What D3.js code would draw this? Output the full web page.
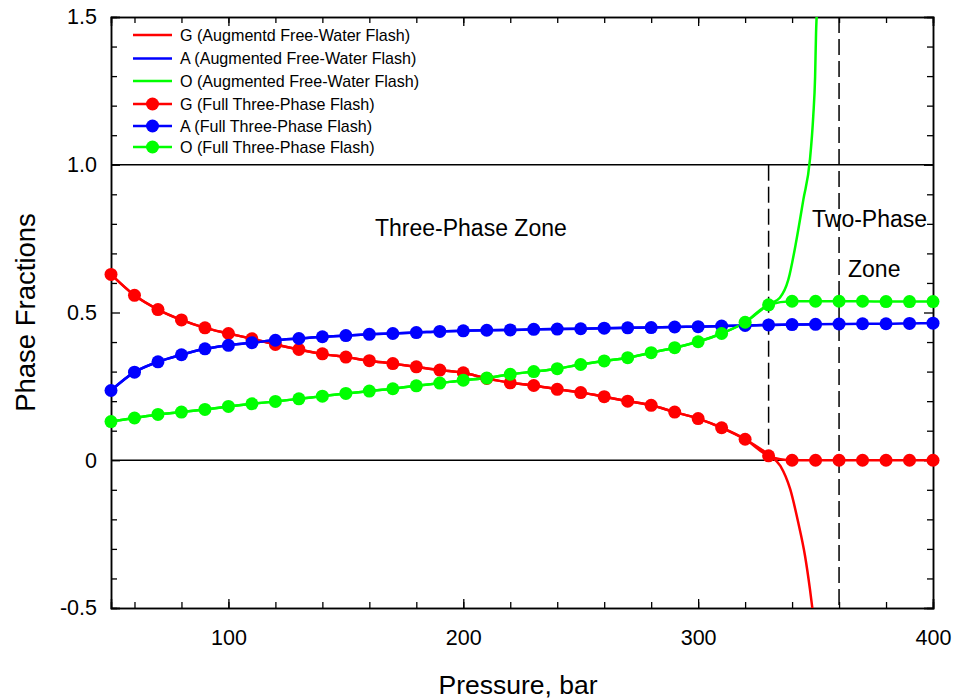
<!DOCTYPE html>
<html>
<head>
<meta charset="utf-8">
<script src="https://cdn.jsdelivr.net/npm/d3@7"></script>
<style>
  html, body { margin: 0; padding: 0; background: #fff; }
  svg { display: block; font-family: Arial, "Liberation Sans", sans-serif; }
</style>
</head>
<body>
<svg id="chart" width="954" height="700"></svg>
<script>
// ---------------- DATA ----------------
const pressure = [50,60,70,80,90,100,110,120,130,140,150,160,170,180,190,200,210,220,230,240,250,260,270,280,290,300,310,320,330,340,350,360,370,380,390,400];
const gFull = [0.629,0.558,0.510,0.475,0.448,0.429,0.411,0.392,0.375,0.360,0.349,0.337,0.327,0.316,0.305,0.296,0.277,0.262,0.253,0.240,0.229,0.215,0.200,0.186,0.163,0.141,0.110,0.071,0.015,0,0,0,0,0,0,0];
const aFull = [0.236,0.298,0.333,0.357,0.377,0.389,0.398,0.406,0.412,0.418,0.422,0.426,0.429,0.432,0.436,0.438,0.440,0.441,0.443,0.444,0.445,0.447,0.448,0.449,0.451,0.452,0.454,0.456,0.458,0.459,0.460,0.461,0.462,0.462,0.463,0.464];
const oFull = [0.131,0.143,0.155,0.163,0.172,0.182,0.191,0.199,0.208,0.217,0.226,0.234,0.242,0.252,0.261,0.271,0.278,0.291,0.300,0.310,0.324,0.336,0.347,0.364,0.381,0.401,0.429,0.467,0.526,0.538,0.538,0.538,0.538,0.537,0.537,0.537];

// Augmented free-water flash (continuous curves)
const augGPressure = [50,60,70,80,90,100,110,120,130,140,150,160,170,180,190,200,210,220,230,240,250,260,270,280,290,300,310,320,330,335,339.2,342.6,345.5,347.6,348.7];
const augG = [0.629,0.558,0.510,0.475,0.448,0.429,0.411,0.392,0.375,0.360,0.349,0.337,0.327,0.316,0.305,0.296,0.277,0.262,0.253,0.240,0.229,0.215,0.200,0.186,0.163,0.141,0.110,0.071,0.018,-0.019,-0.098,-0.210,-0.323,-0.436,-0.505];
const augAPressure = [50,60,70,80,90,100,110,120,130,140,150,160,170,180,190,200,210,220,230,240,250,260,270,280,290,300,310,320,330,340,350];
const augA = [0.236,0.298,0.333,0.357,0.377,0.389,0.398,0.406,0.412,0.418,0.422,0.426,0.429,0.432,0.436,0.438,0.440,0.441,0.443,0.444,0.445,0.447,0.448,0.449,0.451,0.452,0.454,0.456,0.458,0.459,0.460];
const augOPressure = [50,60,70,80,90,100,110,120,130,140,150,160,170,180,190,200,210,220,230,240,250,260,270,280,290,300,310,320,330,334.8,338.4,341.9,344.8,347.6,349.0,349.8,350.2,350.5];
const augO = [0.131,0.143,0.155,0.163,0.172,0.182,0.191,0.199,0.208,0.217,0.226,0.234,0.242,0.252,0.261,0.271,0.278,0.291,0.300,0.310,0.324,0.336,0.347,0.364,0.381,0.401,0.429,0.467,0.527,0.550,0.611,0.747,0.882,1.017,1.163,1.298,1.445,1.510];

const xTicks = [100,200,300,400];
const yTicks = [-0.5,0,0.5,1.0,1.5];
const yTickLabels = ["-0.5","0","0.5","1.0","1.5"];
const zoneBounds = [330,360];

const legendLabels = [
  "G (Augmentd Free-Water Flash)",
  "A (Augmented Free-Water Flash)",
  "O (Augmented Free-Water Flash)",
  "G (Full Three-Phase Flash)",
  "A (Full Three-Phase Flash)",
  "O (Full Three-Phase Flash)"
];

// ---------------- LAYOUT ----------------
const svg = d3.select("#chart");
const L = 111, R = 933, T = 17, B = 608;
const x = d3.scaleLinear().domain([50,400]).range([L,R]);
const y = d3.scaleLinear().domain([-0.5,1.5]).range([B,T]);
const RED = "#ff0000", BLUE = "#0000ff", GREEN = "#00ff00";

svg.append("defs").append("clipPath").attr("id","clip")
  .append("rect").attr("x",L).attr("y",T).attr("width",R-L).attr("height",B-T);

// reference lines y=0 and y=1
[0,1].forEach(v => {
  svg.append("line").attr("x1",L).attr("x2",R).attr("y1",y(v)).attr("y2",y(v))
    .attr("stroke","#000").attr("stroke-width",1.5);
});

// dashed zone boundaries
svg.append("line").attr("x1",x(zoneBounds[0])).attr("x2",x(zoneBounds[0]))
  .attr("y1",y(1)).attr("y2",y(0))
  .attr("stroke","#000").attr("stroke-width",1.5).attr("stroke-dasharray","16,6");
svg.append("line").attr("x1",x(zoneBounds[1])).attr("x2",x(zoneBounds[1]))
  .attr("y1",T).attr("y2",B)
  .attr("stroke","#000").attr("stroke-width",1.5).attr("stroke-dasharray","16,6");

// axes (ticks inward)
const minorX = d3.range(60,400,20);
const minorY = d3.range(-0.4,1.5,0.1).filter(v => Math.abs(v*2 - Math.round(v*2)) > 1e-6);

const gx = svg.append("g").attr("transform",`translate(0,${B})`)
  .call(d3.axisBottom(x).tickValues(xTicks).tickSize(-9).tickFormat(d3.format("d")).tickPadding(22));
const gxm = svg.append("g").attr("transform",`translate(0,${B})`)
  .call(d3.axisBottom(x).tickValues(minorX).tickSize(-6).tickFormat(""));
const gxt = svg.append("g").attr("transform",`translate(0,${T})`)
  .call(d3.axisTop(x).tickValues(xTicks).tickSize(-9).tickFormat(""));
const gxtm = svg.append("g").attr("transform",`translate(0,${T})`)
  .call(d3.axisTop(x).tickValues(minorX).tickSize(-6).tickFormat(""));
const gy = svg.append("g").attr("transform",`translate(${L},0)`)
  .call(d3.axisLeft(y).tickValues(yTicks).tickSize(-9)
    .tickFormat(d => yTickLabels[yTicks.indexOf(d)]).tickPadding(14));
const gym = svg.append("g").attr("transform",`translate(${L},0)`)
  .call(d3.axisLeft(y).tickValues(minorY).tickSize(-6).tickFormat(""));
const gyr = svg.append("g").attr("transform",`translate(${R},0)`)
  .call(d3.axisRight(y).tickValues(yTicks).tickSize(-9).tickFormat(""));
const gyrm = svg.append("g").attr("transform",`translate(${R},0)`)
  .call(d3.axisRight(y).tickValues(minorY).tickSize(-6).tickFormat(""));

[gx,gxm,gxt,gxtm,gy,gym,gyr,gyrm].forEach(g => {
  g.select(".domain").attr("stroke","#000").attr("stroke-width",1.5);
  g.selectAll(".tick line").attr("stroke","#000").attr("stroke-width",1.3);
  g.selectAll(".tick text").attr("fill","#000").attr("font-size","21.5px")
    .attr("font-family","Arial, 'Liberation Sans', sans-serif");
});

// axis titles
svg.append("text").attr("x",518).attr("y",694).attr("text-anchor","middle")
  .attr("font-size","26.5px").attr("fill","#000").text("Pressure, bar");
svg.append("text").attr("transform",`translate(35,${(T+B)/2}) rotate(-90)`)
  .attr("text-anchor","middle").attr("font-size","27.5px").attr("fill","#000").text("Phase Fractions");

// annotations
svg.append("text").attr("x",375).attr("y",236).attr("font-size","23px").attr("fill","#000").text("Three-Phase Zone");
svg.append("text").attr("x",812).attr("y",227).attr("font-size","23px").attr("fill","#000").text("Two-Phase");
svg.append("text").attr("x",848).attr("y",277).attr("font-size","23px").attr("fill","#000").text("Zone");

// plot lines
const plot = svg.append("g").attr("clip-path","url(#clip)");
const line = d3.line().x(d => x(d[0])).y(d => y(d[1])).curve(d3.curveMonotoneX);

const augSeries = [
  {px: augGPressure, v: augG, c: RED},
  {px: augAPressure, v: augA, c: BLUE},
  {px: augOPressure, v: augO, c: GREEN}
];
augSeries.forEach(s => {
  plot.append("path").datum(s.px.map((p,i) => [p, s.v[i]]))
    .attr("d", line).attr("fill","none").attr("stroke",s.c).attr("stroke-width",2.5);
});

const fullSeries = [
  {v: gFull, c: RED},
  {v: aFull, c: BLUE},
  {v: oFull, c: GREEN}
];
fullSeries.forEach(s => {
  const data = pressure.map((p,i) => [p, s.v[i]]);
  plot.append("path").datum(data)
    .attr("d", line).attr("fill","none").attr("stroke",s.c).attr("stroke-width",2.5);
});
fullSeries.forEach(s => {
  const data = pressure.map((p,i) => [p, s.v[i]]);
  svg.append("g").selectAll("circle").data(data).join("circle")
    .attr("cx", d => x(d[0])).attr("cy", d => y(d[1])).attr("r",6.5).attr("fill",s.c);
});

// legend
const legColors = [RED,BLUE,GREEN,RED,BLUE,GREEN];
const legRows = [35,58.5,81,104,126,147];
const leg = svg.append("g");
legendLabels.forEach((lab,i) => {
  const yy = legRows[i];
  leg.append("line").attr("x1",133).attr("x2",172).attr("y1",yy).attr("y2",yy)
    .attr("stroke",legColors[i]).attr("stroke-width",2.5);
  if (i >= 3) leg.append("circle").attr("cx",152.5).attr("cy",yy).attr("r",6.5).attr("fill",legColors[i]);
  leg.append("text").attr("x",180).attr("y",yy+5.7).attr("font-size","16.1px").attr("fill","#000").text(lab);
});
</script>
</body>
</html>
